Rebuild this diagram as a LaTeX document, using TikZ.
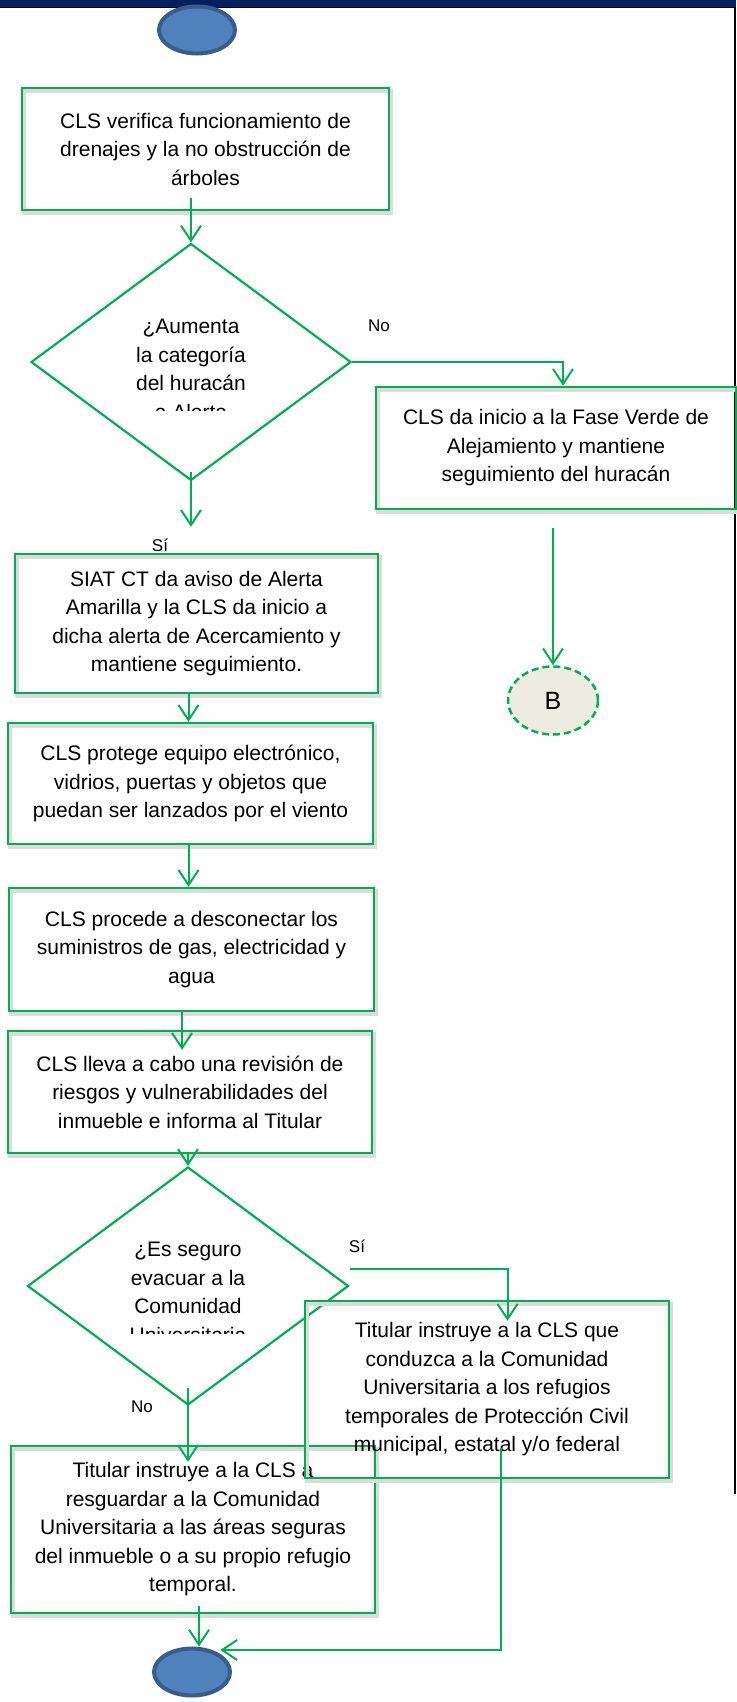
\documentclass[tikz,border=0pt]{standalone}
\usepackage{fontspec}
\setmainfont{Liberation Sans}
\usetikzlibrary{calc,arrows.meta,positioning,shapes.geometric}

\definecolor{verdeflujo}{RGB}{0,176,80}
\definecolor{azulterm}{RGB}{79,129,189}
\definecolor{bordeterm}{RGB}{56,93,138}
\definecolor{fondoconec}{RGB}{238,236,225}
\definecolor{barrasup}{RGB}{0,32,96}

\tikzset{
	paso/.style={draw=verdeflujo, line width=2.5pt, align=center, inner sep=0pt,
		font=\fontsize{21}{28.5}\selectfont,
		preaction={draw=black!14, line width=4pt, transform canvas={xshift=1.5pt,yshift=-3pt}}},
	decision/.style={diamond, draw=verdeflujo, line width=2.2pt, inner sep=0pt},
	textodec/.style={align=center, inner sep=0pt, font=\fontsize{21}{28.5}\selectfont},
	terminal/.style={ellipse, draw=bordeterm, fill=azulterm, line width=4pt,
		minimum width=76pt, minimum height=47pt, inner sep=0pt},
	conector/.style={ellipse, draw=verdeflujo, fill=fondoconec, line width=2.5pt, dashed,
		dash pattern=on 7pt off 4pt, minimum width=90pt, minimum height=68pt,
		font=\fontsize{25}{28}\selectfont},
	flujo/.style={draw=verdeflujo, line width=2pt, -{Straight Barb[length=15pt,width=20pt]}},
	respuesta/.style={inner sep=1pt, font=\fontsize{17}{20}\selectfont}
}

\begin{document}
\begin{tikzpicture}[x=1pt, y=-1pt]
	\useasboundingbox (0,0) rectangle (736,1702);

	% --- Marco de la pagina ---
	\fill[barrasup] (0,0) rectangle (736,7);
	\draw[black, line width=1.2pt] (0,7.5) -- (736,7.5);
	\draw[black, line width=1.5pt] (735,7) -- (735,1494);

	% --- Inicio ---
	\node[terminal] (inicio) at (197,30) {};

	% --- Columna principal ---
	\node[paso, minimum width=367pt, minimum height=122pt] (verifica) at (205.5,149)
		{CLS verifica funcionamiento de\\ drenajes y la no obstrucción de\\ árboles};

	\node[decision, minimum width=320pt, minimum height=237pt] (aumenta) at (191,362) {};
	\begin{scope}
		\clip (30,280) rectangle (350,410);
		\node[textodec] (aumentatxt) at ($(aumenta.center)+(0,7.5)$)
			{¿Aumenta\\ la categoría\\ del huracán\\ a Alerta};
	\end{scope}

	\node[paso, minimum width=360pt, minimum height=122pt] (faseverde) at (556,448)
		{CLS da inicio a la Fase Verde de\\ Alejamiento y mantiene\\ seguimiento del huracán};

	\node[conector] (B) at (553,700.5) {B};

	\node[paso, minimum width=363pt, minimum height=139pt] (alerta) at (196.5,623.5)
		{SIAT CT da aviso de Alerta\\ Amarilla y la CLS da inicio a\\ dicha alerta de Acercamiento y\\ mantiene seguimiento.};

	\node[paso, minimum width=365pt, minimum height=121pt] (protege) at (190.5,783.5)
		{CLS protege equipo electrónico,\\ vidrios, puertas y objetos que\\ puedan ser lanzados por el viento};

	\node[paso, minimum width=365pt, minimum height=123pt] (desconecta) at (191.5,949.5)
		{CLS procede a desconectar los\\ suministros de gas, electricidad y\\ agua};

	\node[paso, minimum width=364pt, minimum height=122pt] (revision) at (190,1092)
		{CLS lleva a cabo una revisión de\\ riesgos y vulnerabilidades del\\ inmueble e informa al Titular};

	\node[decision, minimum width=321pt, minimum height=238pt] (seguro) at (188,1286) {};
	\begin{scope}
		\clip (30,1200) rectangle (350,1333);
		\node[textodec] (segurotxt) at ($(seguro.center)+(0,6.5)$)
			{¿Es seguro\\ evacuar a la\\ Comunidad\\ Universitaria};
	\end{scope}

	\node[paso, minimum width=364pt, minimum height=167pt] (resguardar) at (193,1529.5)
		{Titular instruye a la CLS a\\ resguardar a la Comunidad\\ Universitaria a las áreas seguras\\ del inmueble o a su propio refugio\\ temporal.};

	\node[paso, minimum width=364pt, minimum height=177pt] (refugios) at (487,1389.5)
		{Titular instruye a la CLS que\\ conduzca a la Comunidad\\ Universitaria a los refugios\\ temporales de Protección Civil\\ municipal, estatal y/o federal};

	% --- Fin ---
	\node[terminal] (fin) at (192,1672) {};

	% --- Flechas ---
	\draw[flujo, shorten <=-13pt] (verifica.south -| aumenta.north) -- (aumenta.north);
	\draw[flujo] (aumenta.east) -| ([xshift=7pt]faseverde.north);
	\draw[flujo, shorten <=-10pt, shorten >=26pt] (aumenta.south) -- (aumenta.south |- alerta.north);
	\draw[flujo, shorten <=18pt] (B.north |- faseverde.south) -- (B.north);
	\draw[flujo] ([xshift=-2pt]protege.north |- alerta.south) -- ([xshift=-2pt]protege.north);
	\draw[flujo] ([xshift=-3pt]desconecta.north |- protege.south) -- ([xshift=-3pt]desconecta.north);
	\draw[flujo, shorten >=-20pt] ([xshift=-8pt]revision.north |- desconecta.south) -- ([xshift=-8pt]revision.north);
	\draw[flujo] (seguro.north |- revision.south) -- (seguro.north);
	\draw[flujo, shorten >=-21pt] ([yshift=17pt]seguro.east) -| ([xshift=20.5pt]refugios.north);
	\draw[flujo, shorten <=-18pt, shorten >=-17pt] (seguro.south) -- (seguro.south |- resguardar.north);
	\draw[flujo, shorten <=-8pt] ([xshift=7pt]fin.north |- resguardar.south) -- ([xshift=7pt]fin.north);
	\draw[flujo] ([xshift=13.5pt,yshift=31pt]refugios.south) |- ([yshift=4pt]fin.north east);

	% --- Respuestas ---
	\node[respuesta] (noA) at (379,326) {No};
	\node[respuesta] (siA) at (160,545) {Sí};
	\node[respuesta] (siB) at (357,1246) {Sí};
	\node[respuesta] (noB) at (142,1407) {No};
\end{tikzpicture}
\end{document}
